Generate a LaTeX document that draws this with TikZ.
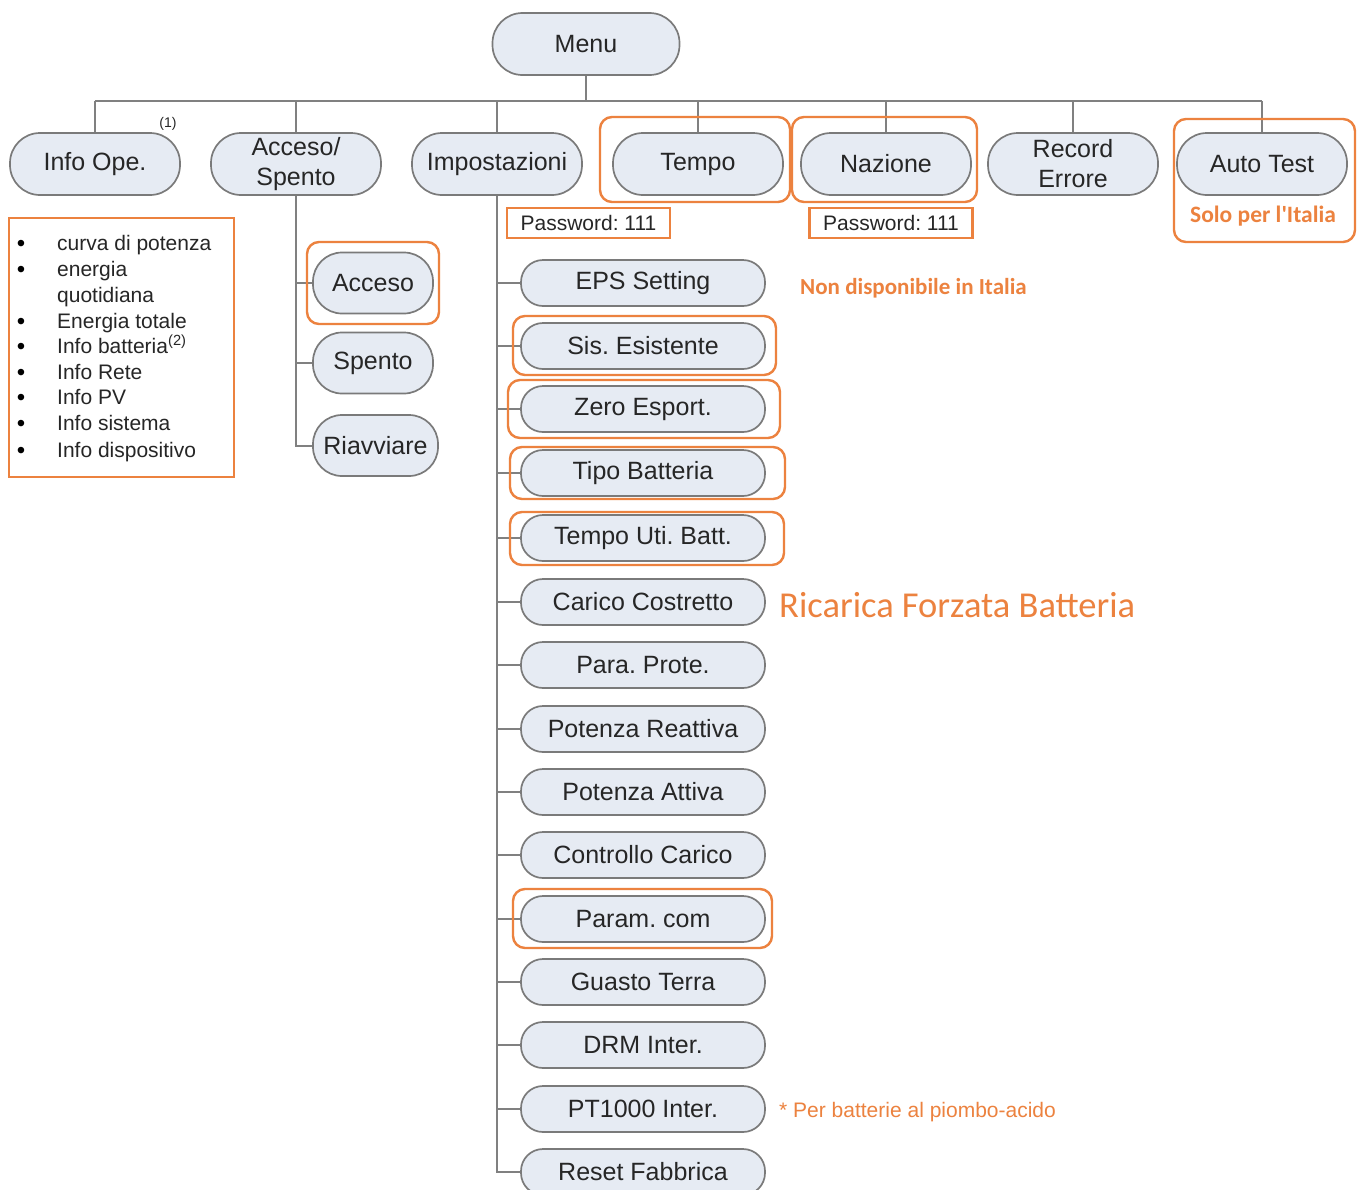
\documentclass[tikz,border=0pt]{standalone}
\usepackage{fontspec}
\setmainfont{Liberation Sans}
\newfontfamily\calib{Carlito}
\definecolor{pfill}{HTML}{E6EBF3}
\definecolor{pdraw}{HTML}{7A7A7A}
\definecolor{ptext}{HTML}{262626}
\definecolor{org}{HTML}{EC823F}
\definecolor{lgrey}{HTML}{808080}
\begin{document}
\frenchspacing
\begin{tikzpicture}[x=1pt,y=-1pt,
 pill/.style={draw=pdraw, line width=1.7pt, fill=pfill, text=ptext, inner sep=0pt, align=center, font=\fontsize{25}{30}\selectfont},
 topnode/.style={pill, minimum width=170pt, minimum height=62pt, rounded corners=30pt},
 subnode/.style={pill, minimum width=120pt, minimum height=61pt, rounded corners=29pt},
 setnode/.style={pill, minimum width=244pt, minimum height=46pt, rounded corners=22pt},
 conn/.style={draw=lgrey, line width=2pt},
 hl/.style={draw=org, line width=2.4pt, rounded corners=12pt},
 pw/.style={draw=org, line width=2.8pt, minimum width=163pt, minimum height=30pt, inner sep=0pt, text=ptext, font=\fontsize{21}{24}\selectfont},
 notetext/.style={text=org, inner sep=0pt},
 item/.style={anchor=base west, inner sep=0pt, text=ptext, font=\fontsize{21}{24}\selectfont},
 bul/.style={anchor=base, inner sep=0pt, text=black, font=\fontsize{24}{24}\selectfont},
]
\useasboundingbox[fill=white] (0,0) rectangle (1359,1189);

% top level
\node[topnode, minimum width=187pt] (menu) at (586,44) {Menu};
\node[topnode] (info) at (95,164) {Info Ope.};
\node[topnode] (onoff) at (296,164) {Acceso/\\Spento};
\node[topnode] (imp) at (497,164) {Impostazioni};
\node[topnode] (tempo) at (698,164) {Tempo};
\node[topnode] (naz) at (886,164) {Nazione};
\node[topnode] (rec) at (1073,164) {Record\\Errore};
\node[topnode] (auto) at (1262,164) {Auto Test};

\coordinate (bus) at (586,101);
\draw[conn] (menu.south) -- (bus);
\draw[conn] (info.north |- bus) -- (auto.north |- bus);
\foreach \n in {info,onoff,imp,tempo,naz,rec,auto}
  \draw[conn] (\n.north |- bus) -- (\n.north);

\node[text=ptext, inner sep=0pt, font=\fontsize{14}{16}\selectfont] (fn1) at (168,124) {(1)};

% highlights top
\draw[hl] (600,117) rectangle (790,202);
\draw[hl] (792,117) rectangle (977,202);
\draw[hl] (1174,119) rectangle (1355,242);
\node[notetext, font=\calib\bfseries\fontsize{23.5}{26}\selectfont] (solo) at (1263,216) {Solo per l'Italia};

\node[pw] (pw1) at (588.5,223) {Password: 111};
\node[pw] (pw2) at (891,223) {Password: 111};

% info list
\node[draw=org, line width=2.8pt, minimum width=225pt, minimum height=259pt, inner sep=0pt] (list) at (121.5,347.5) {};
\node[bul] (b1) at (21,251) {•}; \node[item] (i1) at (57,250) {curva di potenza};
\node[bul] (b2) at (21,277) {•}; \node[item] (i2) at (57,276) {energia};
\node[item] (i2b) at (57,302) {quotidiana};
\node[bul] (b3) at (21,329) {•}; \node[item] (i3) at (57,328) {Energia totale};
\node[bul] (b4) at (21,354) {•}; \node[item] (i4) at (57,353) {Info batteria\textsuperscript{(2)}};
\node[bul] (b5) at (21,380) {•}; \node[item] (i5) at (57,379) {Info Rete};
\node[bul] (b6) at (21,405) {•}; \node[item] (i6) at (57,404) {Info PV};
\node[bul] (b7) at (21,431) {•}; \node[item] (i7) at (57,430) {Info sistema};
\node[bul] (b8) at (21,458) {•}; \node[item] (i8) at (57,457) {Info dispositivo};

% Acceso/Spento children
\node[subnode] (acceso) at (373,283) {Acceso};
\node[subnode] (spento) at (373,363) {Spento};
\node[subnode, minimum width=125pt] (riav) at (375.5,445.5) {Riavviare};
\draw[conn] (onoff.south) |- (riav.west);
\draw[conn] (onoff.south |- acceso.west) -- (acceso.west);
\draw[conn] (onoff.south |- spento.west) -- (spento.west);
\draw[hl] (307,242) rectangle (439,324);

% Impostazioni children
\node[setnode] (eps) at (643,283) {EPS Setting};
\node[setnode] (sis) at (643,346) {Sis. Esistente};
\node[setnode] (zero) at (643,409) {Zero Esport.};
\node[setnode] (tipo) at (643,473) {Tipo Batteria};
\node[setnode] (tua) at (643,538) {Tempo Uti. Batt.};
\node[setnode] (cc) at (643,602) {Carico Costretto};
\node[setnode] (pp) at (643,665) {Para. Prote.};
\node[setnode] (pr) at (643,729) {Potenza Reattiva};
\node[setnode] (pa) at (643,792) {Potenza Attiva};
\node[setnode] (ctrl) at (643,855) {Controllo Carico};
\node[setnode] (pcom) at (643,919) {Param. com};
\node[setnode] (gt) at (643,982) {Guasto Terra};
\node[setnode] (drm) at (643,1045) {DRM Inter.};
\node[setnode] (pt) at (643,1109) {PT1000 Inter.};
\node[setnode] (reset) at (643,1172) {Reset Fabbrica};

\draw[conn] (imp.south) |- (reset.west);
\foreach \n in {eps,sis,zero,tipo,tua,cc,pp,pr,pa,ctrl,pcom,gt,drm,pt}
  \draw[conn] (imp.south |- \n.west) -- (\n.west);

\draw[hl] (513,316) rectangle (776,375);
\draw[hl] (508,380) rectangle (780,438);
\draw[hl] (510,447) rectangle (785,499);
\draw[hl] (510,512) rectangle (784,565);
\draw[hl] (513,889) rectangle (772,948);

% notes
\node[notetext, anchor=west, font=\calib\bfseries\fontsize{23}{26}\selectfont] (nd) at (800,288) {Non disponibile in Italia};
\node[notetext, anchor=west, font=\calib\fontsize{36.5}{40}\selectfont] (rfb) at (779,605) {Ricarica Forzata Batteria};
\node[notetext, anchor=west, font=\fontsize{21}{24}\selectfont] (pb) at (779,1112) {* Per batterie al piombo-acido};
\end{tikzpicture}
\end{document}
